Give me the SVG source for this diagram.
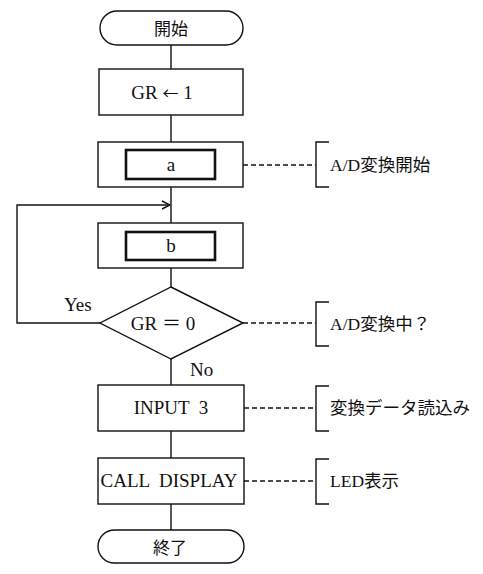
<svg xmlns="http://www.w3.org/2000/svg" width="483" height="574" viewBox="0 0 483 574">
<style>
.s{fill:#fff;stroke:#111;stroke-width:1.4}
.in{fill:#fff;stroke:#111;stroke-width:2.6}
.t{font-family:"Liberation Serif","Noto Sans CJK JP",serif;font-size:19px;fill:#111;text-anchor:middle}
.j{font-family:"Liberation Serif","Noto Sans CJK JP",serif;font-size:17px;fill:#111;text-anchor:middle}
.l{font-family:"Liberation Serif","Noto Sans CJK JP",serif;font-size:17.5px;fill:#111}
.y{font-family:"Liberation Serif",serif;font-size:19px;fill:#111}
.c{fill:none;stroke:#111;stroke-width:1.4}
.d{fill:none;stroke:#111;stroke-width:1.4;stroke-dasharray:5 3}
</style>
<defs>
<marker id="ar" markerWidth="10" markerHeight="10" refX="9" refY="5" orient="auto" markerUnits="userSpaceOnUse">
<path d="M1,1 L9,5 L1,9" fill="none" stroke="#111" stroke-width="1.4"/>
</marker>
</defs>
<g id="connectors">
<path class="c" d="M171,45 V69 M171,115 V142 M171,187 V223 M171,268 V287 M171,359 V385 M171,431 V458 M171,504 V530"/>
<path class="c" d="M100,323 H17 V205 H170" marker-end="url(#ar)"/>
<path class="d" d="M243,165 H316 M243,323 H316 M244,408 H316 M244,481 H316"/>
<path class="c" d="M329,142 H316 V187 H329 M329,302 H316 V346 H329 M329,386 H316 V431 H329 M329,459 H316 V504 H329"/>
</g>
<g id="start"><rect class="s" x="100" y="11" width="143" height="34" rx="17"/><text class="j" x="171" y="35">開始</text></g>
<g id="gr1"><rect class="s" x="99" y="69" width="144" height="46"/><text class="t" x="162" y="99" xml:space="preserve">GR <tspan font-family="Noto Sans CJK JP" font-size="16">←</tspan> 1</text></g>
<g id="a"><rect class="s" x="98" y="142" width="145" height="45"/><rect class="in" x="126" y="150" width="89" height="29"/><text class="t" x="171" y="171">a</text></g>
<g id="b"><rect class="s" x="98" y="223" width="145" height="45"/><rect class="in" x="126" y="232" width="89" height="28"/><text class="t" x="171" y="252">b</text></g>
<g id="decision"><path class="s" d="M171,287 L243,323 L171,359 L100,323 Z"/><text class="t" x="163" y="330" xml:space="preserve">GR ＝ 0</text></g>
<text class="y" x="64" y="311">Yes</text>
<text class="y" x="190" y="376">No</text>
<g id="input"><rect class="s" x="98" y="385" width="146" height="46"/><text class="t" x="171" y="414" xml:space="preserve">INPUT  3</text></g>
<g id="call"><rect class="s" x="98" y="458" width="146" height="46"/><text class="t" x="169" y="487" xml:space="preserve">CALL  DISPLAY</text></g>
<g id="end"><rect class="s" x="98" y="530" width="146" height="33" rx="16.5"/><text class="j" x="170" y="554">終了</text></g>
<text class="l" x="330" y="171">A/D変換開始</text>
<text class="l" x="330" y="330">A/D変換中？</text>
<text class="l" x="330" y="414">変換データ読込み</text>
<text class="l" x="330" y="487">LED表示</text>
</svg>
